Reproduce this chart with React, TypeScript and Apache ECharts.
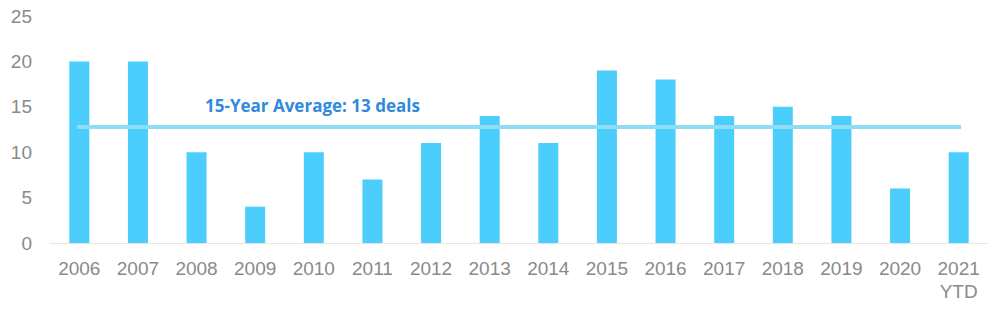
import React, { useEffect, useRef } from "react";
import * as echarts from "echarts";

const categories = ["2006", "2007", "2008", "2009", "2010", "2011", "2012", "2013", "2014", "2015", "2016", "2017", "2018", "2019", "2020", "2021\nYTD"];
const deals = [20, 20, 10, 4, 10, 7, 11, 14, 11, 19, 18, 14, 15, 14, 6, 10];
const averageValue = 12.8;
const averageLabel = "15-Year Average: 13 deals";
const yTicks = { min: 0, max: 25, interval: 5 };

export default function App() {
  const ref = useRef<HTMLDivElement>(null);
  useEffect(() => {
    if (!ref.current) return;
    const chart = echarts.init(ref.current, undefined, { renderer: "svg" });
    chart.setOption({
      animation: false,
      grid: { left: 50, right: 12, top: 16, bottom: 68 },
      xAxis: {
        type: "category",
        data: categories,
        axisLine: { lineStyle: { color: "#e6e6e6", width: 1 } },
        axisTick: { show: false },
        axisLabel: {
          color: "#8a8a8a",
          fontSize: 19,
          fontFamily: "Liberation Sans, Arial, sans-serif",
          margin: 14,
          lineHeight: 23,
          interval: 0,
        },
      },
      yAxis: {
        type: "value",
        min: yTicks.min,
        max: yTicks.max,
        interval: yTicks.interval,
        splitLine: { show: false },
        axisLine: { show: false },
        axisTick: { show: false },
        axisLabel: {
          color: "#8a8a8a",
          fontSize: 19,
          fontFamily: "Liberation Sans, Arial, sans-serif",
          margin: 18,
        },
      },
      series: [
        {
          type: "bar",
          data: deals,
          barWidth: 20,
          itemStyle: { color: "#4ccefc" },
          markLine: {
            symbol: "none",
            silent: true,
            label: { show: false },
            lineStyle: { color: "#8fdcf5", width: 4, type: "solid" },
            data: [
              [
                { coord: [categories[0], averageValue], x: 77 },
                { coord: [categories[categories.length - 1], averageValue], x: 961 },
              ],
            ],
          },
        },
      ],
      graphic: [
        {
          type: "text",
          left: 205,
          top: 97,
          style: {
            text: averageLabel,
            fill: "#2f8ae0",
            font: "bold 17px 'Open Sans', 'Liberation Sans', sans-serif",
          },
        },
      ],
    });
    return () => chart.dispose();
  }, []);
  return (
    <div
      ref={ref}
      style={{ position: "fixed", left: 0, top: 0, width: 1000, height: 311, background: "#fff" }}
    />
  );
}
